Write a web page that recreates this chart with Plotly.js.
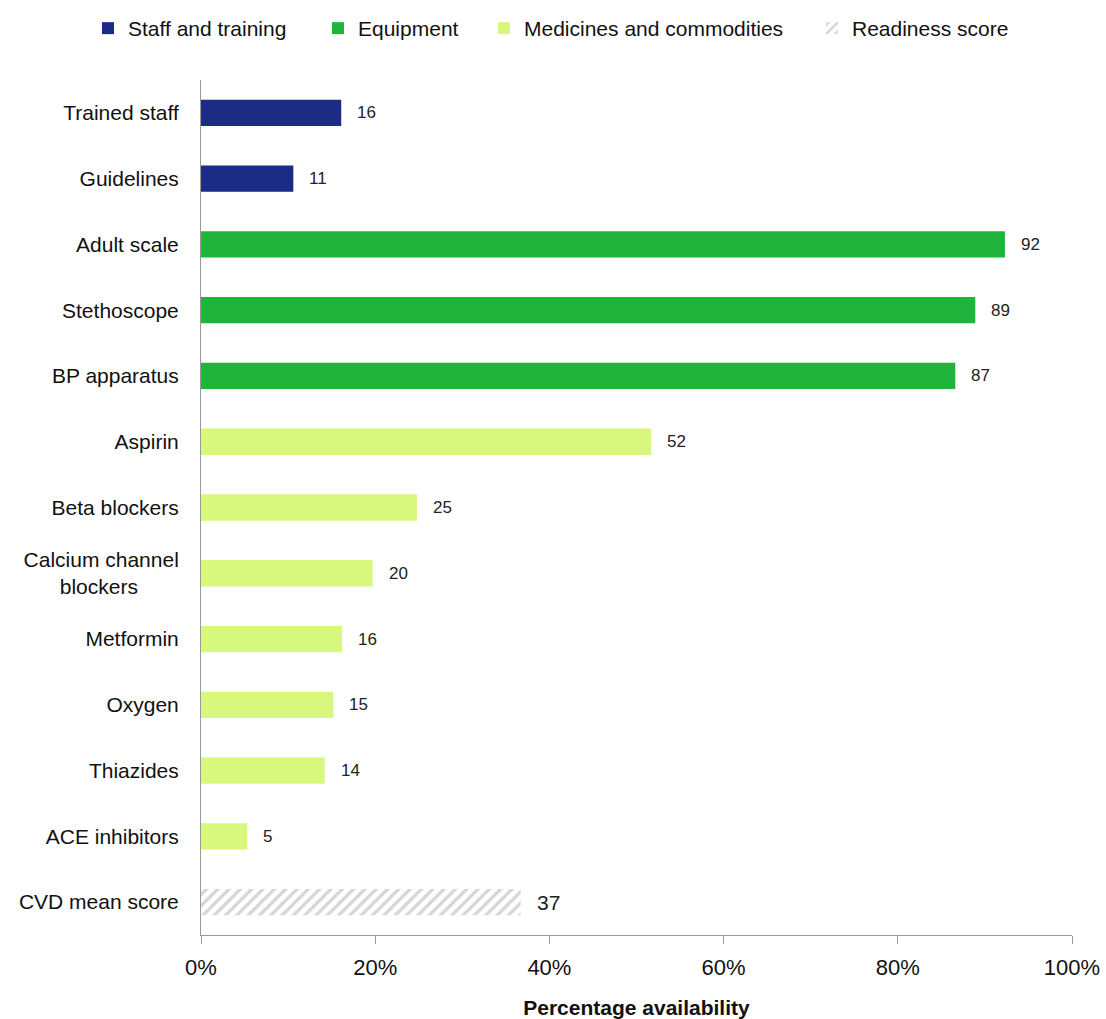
<!DOCTYPE html>
<html>
<head>
<meta charset="utf-8">
<script src="https://cdn.plot.ly/plotly-3.0.1.min.js"></script>
<style>html,body{margin:0;padding:0;background:#fff;}#chart{width:1106px;height:1019px;}</style>
</head>
<body>
<div id="chart"></div>
<script>
var categories = ['Trained staff','Guidelines','Adult scale','Stethoscope','BP apparatus','Aspirin','Beta blockers','Calcium channel blockers','Metformin','Oxygen','Thiazides','ACE inhibitors','CVD mean score'];
var tickLabels = ['Trained staff','Guidelines','Adult scale','Stethoscope','BP apparatus','Aspirin','Beta blockers','Calcium channel<br>blockers\u00a0\u00a0\u00a0\u00a0\u00a0\u00a0\u00a0','Metformin','Oxygen','Thiazides','ACE inhibitors','CVD mean score'];

var staffLabels = ['Trained staff','Guidelines'];
var staffValues = [16.1, 10.6];
var equipLabels = ['Adult scale','Stethoscope','BP apparatus'];
var equipValues = [92.3, 88.9, 86.6];
var medLabels = ['Aspirin','Beta blockers','Calcium channel blockers','Metformin','Oxygen','Thiazides','ACE inhibitors'];
var medValues = [51.7, 24.8, 19.7, 16.2, 15.2, 14.2, 5.3];
var scoreLabels = ['CVD mean score'];
var scoreValues = [36.7];
var xTickVals = [0, 20, 40, 60, 80, 100];
var xTickText = ['0%', '20%', '40%', '60%', '80%', '100%'];

var FONT = '"Liberation Sans Narrow", "Liberation Sans", Arial, sans-serif';

function barTrace(name, labels, values, color, legendId, extra) {
  var t = {
    type: 'bar', orientation: 'h', name: name,
    y: labels, x: values, width: 0.4,
    marker: {color: color, line: {width: 0}},
    legend: legendId,
    hoverinfo: 'x+y'
  };
  if (extra) for (var k in extra) t[k] = extra[k];
  return t;
}

var traces = [
  barTrace('Staff and training', staffLabels, staffValues, '#1c2b85', 'legend'),
  barTrace('Equipment', equipLabels, equipValues, '#21b43d', 'legend2'),
  barTrace('Medicines and commodities', medLabels, medValues, '#d7f87c', 'legend3'),
  barTrace('Readiness score', scoreLabels, scoreValues, '#ffffff', 'legend4', {
    marker: {color: '#ffffff', line: {width: 0},
      pattern: {shape: '/', fgcolor: '#ababab', bgcolor: '#ffffff', size: 8, solidity: 0.4, fillmode: 'overlay'}}
  })
];

var annotations = [];
function addLabels(labels, values, size) {
  for (var i = 0; i < labels.length; i++) {
    annotations.push({
      x: values[i], y: labels[i], xref: 'x', yref: 'y',
      text: String(Math.round(values[i])), showarrow: false,
      xanchor: 'left', yanchor: 'middle', xshift: 14,
      font: {family: FONT, size: size, color: '#222'}
    });
  }
}
addLabels(staffLabels, staffValues, 17);
addLabels(equipLabels, equipValues, 17);
addLabels(medLabels, medValues, 17);
addLabels(scoreLabels, scoreValues, 21);

function legendAt(px) {
  return {orientation: 'h', xref: 'container', yref: 'container',
    x: px / 1106, xanchor: 'left', y: 1 - 8 / 1019, yanchor: 'top',
    font: {family: FONT, size: 21, color: '#111'}, itemwidth: 30,
    bgcolor: 'rgba(0,0,0,0)', borderwidth: 0};
}

var layout = {
  width: 1106, height: 1019,
  margin: {l: 201, r: 34, t: 80, b: 84, autoexpand: false},
  paper_bgcolor: '#ffffff', plot_bgcolor: '#ffffff',
  font: {family: FONT, size: 21, color: '#111'},
  barmode: 'overlay',
  showlegend: true,
  legend: legendAt(88),
  legend2: legendAt(318),
  legend3: legendAt(484),
  legend4: legendAt(812),
  xaxis: {
    range: [0, 100], tickmode: 'array', tickvals: xTickVals, ticktext: xTickText,
    showgrid: false, zeroline: false,
    showline: true, linecolor: '#999', linewidth: 1,
    ticks: 'outside', ticklen: 8, tickcolor: '#999',
    ticklabelstandoff: 5,
    tickfont: {family: FONT, size: 22, color: '#111'},
    title: {text: '<b>Percentage availability</b>', font: {family: FONT, size: 21, color: '#111'}, standoff: 20},
    automargin: false,
    fixedrange: true
  },
  yaxis: {
    type: 'category', categoryorder: 'array', categoryarray: categories,
    autorange: 'reversed',
    tickmode: 'array', tickvals: categories, ticktext: tickLabels,
    showgrid: false, zeroline: false,
    showline: true, linecolor: '#999', linewidth: 1,
    ticks: '', ticklabelstandoff: 17,
    tickfont: {family: FONT, size: 21, color: '#111'},
    automargin: false,
    fixedrange: true
  },
  annotations: annotations
};

Plotly.newPlot('chart', traces, layout, {displayModeBar: false, staticPlot: true});
</script>
</body>
</html>
